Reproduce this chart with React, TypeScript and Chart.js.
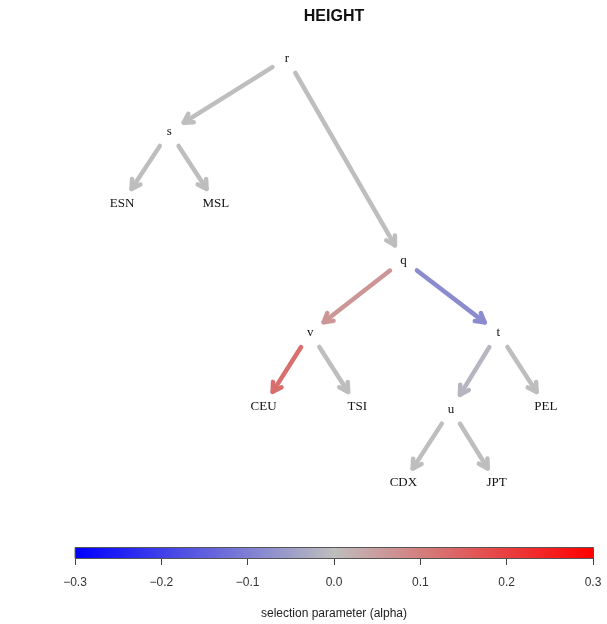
import React, { useEffect, useRef } from "react";
import { Chart, registerables } from "chart.js";
Chart.register(...registerables);

const chartTitle = "HEIGHT";
const axisTitle = "selection parameter (alpha)";
const nodeNames = ["r", "s", "ESN", "MSL", "q", "v", "t", "CEU", "TSI", "u", "PEL", "CDX", "JPT"];
const nodeX = [40.9, 18.2, 9.1, 27.2, 63.4, 45.4, 81.7, 36.4, 54.5, 72.6, 90.9, 63.4, 81.4];
const nodeY = [0.35, 1.77, 3.15, 3.15, 4.25, 5.65, 5.65, 7.07, 7.07, 7.13, 7.07, 8.55, 8.55];
const edgeFrom = ["r", "r", "s", "s", "q", "q", "v", "v", "t", "t", "u", "u"];
const edgeTo = ["s", "q", "ESN", "MSL", "v", "t", "CEU", "TSI", "u", "PEL", "CDX", "JPT"];
const edgeAlpha = [0, 0, 0, 0, 0.063, -0.08, 0.126, 0, -0.012, 0, 0, 0];
const alphaMin = -0.3;
const alphaMax = 0.3;
const alphaStep = 0.1;

function alphaColor(a: number): string {
  const t = Math.min(1, Math.abs(a) / 0.3);
  const base = 190;
  if (a >= 0) {
    const r = Math.round(base + (255 - base) * t);
    const g = Math.round(base * (1 - t));
    return `rgb(${r},${g},${g})`;
  } else {
    const b = Math.round(base + (255 - base) * t);
    const g = Math.round(base * (1 - t));
    return `rgb(${g},${g},${b})`;
  }
}

const treePlugin = {
  id: "treePlugin",
  afterDatasetsDraw(chart: any) {
    const ctx = chart.ctx as CanvasRenderingContext2D;
    const meta = chart.getDatasetMeta(0);
    const pos = (name: string) => {
      const i = nodeNames.indexOf(name);
      const el = meta.data[i];
      return { x: el.x, y: el.y };
    };
    ctx.save();
    for (let k = 0; k < edgeFrom.length; k++) {
      const a = pos(edgeFrom[k]);
      const b = pos(edgeTo[k]);
      const dx = b.x - a.x;
      const dy = b.y - a.y;
      const len = Math.hypot(dx, dy);
      const ux = dx / len;
      const uy = dy / len;
      const gap = 17;
      const sx = a.x + ux * gap;
      const sy = a.y + uy * gap;
      const ex = b.x - ux * gap;
      const ey = b.y - uy * gap;
      ctx.strokeStyle = alphaColor(edgeAlpha[k]);
      ctx.lineWidth = 4.5;
      ctx.lineCap = "round";
      ctx.lineJoin = "round";
      ctx.beginPath();
      ctx.moveTo(sx, sy);
      ctx.lineTo(ex, ey);
      ctx.stroke();
      const ang = Math.atan2(uy, ux);
      const hl = 10;
      const ha = Math.PI / 6;
      ctx.beginPath();
      ctx.moveTo(ex - hl * Math.cos(ang - ha), ey - hl * Math.sin(ang - ha));
      ctx.lineTo(ex, ey);
      ctx.lineTo(ex - hl * Math.cos(ang + ha), ey - hl * Math.sin(ang + ha));
      ctx.stroke();
    }
    ctx.fillStyle = "#111";
    ctx.font = "13px 'Liberation Serif', serif";
    ctx.textAlign = "center";
    ctx.textBaseline = "middle";
    for (let i = 0; i < nodeNames.length; i++) {
      const el = meta.data[i];
      ctx.fillText(nodeNames[i], el.x, el.y);
    }
    const ca = chart.chartArea;
    ctx.font = "bold 16px 'Liberation Sans', sans-serif";
    ctx.fillStyle = "#111";
    ctx.fillText(chartTitle, (ca.left + ca.right) / 2, 17);
    const cb = chart.scales.cb;
    const x0 = cb.getPixelForValue(alphaMin);
    const x1 = cb.getPixelForValue(alphaMax);
    const barBottom = ca.bottom;
    const barTop = ca.bottom - 11;
    const steps = Math.round(x1 - x0);
    for (let p = 0; p < steps; p++) {
      const v = cb.getValueForPixel(x0 + p + 0.5);
      ctx.fillStyle = alphaColor(v);
      ctx.fillRect(x0 + p, barTop, 1.2, barBottom - barTop);
    }
    ctx.strokeStyle = "#555";
    ctx.lineWidth = 1;
    ctx.strokeRect(Math.round(x0) + 0.5, Math.round(barTop) + 0.5, Math.round(x1 - x0), Math.round(barBottom - barTop));
    ctx.restore();
  },
};

export default function App() {
  const ref = useRef<HTMLCanvasElement | null>(null);
  useEffect(() => {
    document.body.style.margin = "0";
    document.documentElement.style.overflow = "hidden";
    if (!ref.current) return;
    const chart = new Chart(ref.current, {
      type: "scatter",
      data: {
        datasets: [
          {
            data: nodeNames.map((_, i) => ({ x: nodeX[i], y: nodeY[i] })),
            pointRadius: 0,
            pointHoverRadius: 0,
            xAxisID: "x",
            yAxisID: "y",
          },
        ],
      },
      options: {
        animation: false,
        responsive: false,
        devicePixelRatio: 1,
        events: [],
        layout: { padding: { left: 75, right: 14, top: 40, bottom: 0 } },
        plugins: { legend: { display: false }, tooltip: { enabled: false }, title: { display: false } },
        scales: {
          x: { type: "linear", min: 0, max: 100, display: false },
          y: { type: "linear", min: 0, max: 10, reverse: true, display: false },
          cb: {
            type: "linear",
            axis: "x",
            position: "bottom",
            min: alphaMin,
            max: alphaMax,
            afterFit: (s: any) => {
              s.height = 66;
              s.paddingLeft = 0;
              s.paddingRight = 0;
            },
            afterBuildTicks: (s: any) => {
              const t = [];
              for (let v = alphaMin; v <= alphaMax + 1e-9; v += alphaStep) t.push({ value: Math.round(v * 10) / 10 });
              s.ticks = t;
            },
            ticks: {
              autoSkip: false,
              maxRotation: 0,
              padding: 10,
              color: "#333",
              font: { family: "'Liberation Sans', sans-serif", size: 12 },
              callback: (v: any) => {
                const n = Number(v);
                if (Math.abs(n) < 1e-9) return "0.0";
                return n < 0 ? "\u2212" + Math.abs(n).toFixed(1) : n.toFixed(1);
              },
            },
            grid: { drawOnChartArea: false, drawTicks: true, tickLength: 7, color: "#444", lineWidth: 1 },
            border: { display: false },
            title: {
              display: true,
              text: axisTitle,
              color: "#222",
              font: { family: "'Liberation Sans', sans-serif", size: 12 },
              padding: { top: 0, bottom: 3 },
            },
          },
        },
      },
      plugins: [treePlugin],
    } as any);
    return () => chart.destroy();
  }, []);
  return (
    <div style={{ width: 607, height: 624, position: "relative", overflow: "hidden" }}>
      <canvas ref={ref} width={607} height={624} style={{ display: "block", width: 607, height: 624 }} />
    </div>
  );
}
